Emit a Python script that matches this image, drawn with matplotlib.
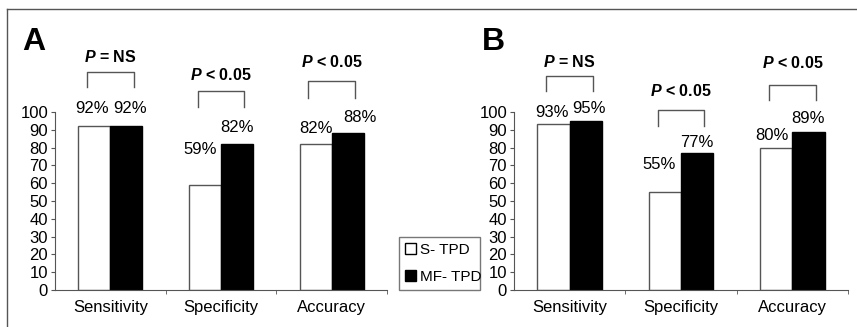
import numpy as np
import matplotlib
matplotlib.use("Agg")
import matplotlib.pyplot as plt
from matplotlib.patches import Patch
from matplotlib.lines import Line2D

plt.rcParams['font.family'] = ['Liberation Sans', 'DejaVu Sans']
plt.rcParams['mathtext.fontset'] = 'custom'
plt.rcParams['mathtext.it'] = 'Liberation Sans:italic:bold'
plt.rcParams['mathtext.rm'] = 'Liberation Sans:bold'

# data
categories = ["Sensitivity", "Specificity", "Accuracy"]
series_names = ["S- TPD", "MF- TPD"]
a_s_tpd = [92, 59, 82]
a_mf_tpd = [92, 82, 88]
b_s_tpd = [93, 55, 80]
b_mf_tpd = [95, 77, 89]
a_pvals = ["= NS", "< 0.05", "< 0.05"]
b_pvals = ["= NS", "< 0.05", "< 0.05"]

# layout (label offsets, bracket heights)
a_lab_dy = [(10, 10), (20, 9.5), (9, 9)]
b_lab_dy = [(6.5, 7), (15.5, 5.7), (7, 7.5)]
a_lab_dx = [(-0.02, 0.035), (-0.04, 0), (0, 0.11)]
b_lab_dx = [(-0.01, 0.03), (-0.05, 0), (-0.04, 0)]
a_brk = [(122.5, 114, 131), (111.8, 102.8, 121), (117.4, 107.9, 128)]
b_brk = [(120, 112, 128), (101, 92, 112), (115, 107, 127.5)]

W, H = 857, 327
fig = plt.figure(figsize=(W / 100, H / 100), dpi=100)
gray = '#555555'

# frame lines top and left
fig.add_artist(Line2D([7 / W, 1], [1 - 9 / H, 1 - 9 / H], color=gray, lw=1))
fig.add_artist(Line2D([7 / W, 7 / W], [0, 1 - 9 / H], color=gray, lw=1))


def panel(left_px, width_px, s_vals, mf_vals, pvals, lab_dy, lab_dx, brk, letter, letter_x):
    ax = fig.add_axes([left_px / W, 37 / H, width_px / W, 267 / H])
    x = np.arange(len(categories))
    bw = 0.29
    ax.bar(x - bw / 2, s_vals, bw, color='white', edgecolor=gray, lw=1)
    ax.bar(x + bw / 2, mf_vals, bw, color='black', edgecolor='black', lw=1)
    ax.set_xlim(-0.5, 2.5)
    ax.set_ylim(0, 150)
    for sp in ['top', 'right']:
        ax.spines[sp].set_visible(False)
    ax.spines['left'].set_bounds(0, 100)
    ax.spines['left'].set_color(gray)
    ax.spines['bottom'].set_color(gray)
    ax.set_yticks(range(0, 101, 10))
    ax.tick_params(axis='y', length=3, color=gray, labelsize=12, pad=2)
    ax.set_xticks(x)
    ax.set_xticklabels(categories, fontsize=12)
    ax.tick_params(axis='x', length=0, pad=7)
    ax.set_xticks([0.5, 1.5, 2.5], minor=True)
    ax.tick_params(axis='x', which='minor', length=3, color=gray)
    for i in range(len(categories)):
        ax.text(x[i] - bw / 2 + lab_dx[i][0], s_vals[i] + lab_dy[i][0], f"{s_vals[i]}%",
                ha='center', va='center', fontsize=12, clip_on=False)
        ax.text(x[i] + bw / 2 + lab_dx[i][1], mf_vals[i] + lab_dy[i][1], f"{mf_vals[i]}%",
                ha='center', va='center', fontsize=12, clip_on=False)
        top, bot, ty = brk[i]
        ax.plot([x[i] - 0.21, x[i] - 0.21, x[i] + 0.21, x[i] + 0.21], [bot, top, top, bot],
                color=gray, lw=1, clip_on=False)
        ax.text(x[i], ty, r"$P$ " + pvals[i], ha='center', va='center',
                fontsize=11.5, fontweight='bold', clip_on=False)
    fig.text(letter_x / W, 1 - 50 / H, letter, fontsize=23, fontweight='bold',
             ha='left', va='baseline')
    return ax


panel(55, 332, a_s_tpd, a_mf_tpd, a_pvals, a_lab_dy, a_lab_dx, a_brk, "A", 22)
panel(514, 334, b_s_tpd, b_mf_tpd, b_pvals, b_lab_dy, b_lab_dx, b_brk, "B", 482)

handles = [Patch(facecolor='white', edgecolor='black', lw=1),
           Patch(facecolor='black', edgecolor='black', lw=1)]
leg = fig.legend(handles, series_names, loc='lower left',
                 bbox_to_anchor=(399 / W, 37 / H, 81 / W, 58 / H), mode='expand',
                 fontsize=11, frameon=True, fancybox=False, handlelength=0.7,
                 handleheight=0.7, handletextpad=0.3, borderpad=0.4, labelspacing=0.85,
                 borderaxespad=0)
leg.get_frame().set_edgecolor(gray)
leg.get_frame().set_linewidth(1)

fig.savefig("out.png", dpi=100)
